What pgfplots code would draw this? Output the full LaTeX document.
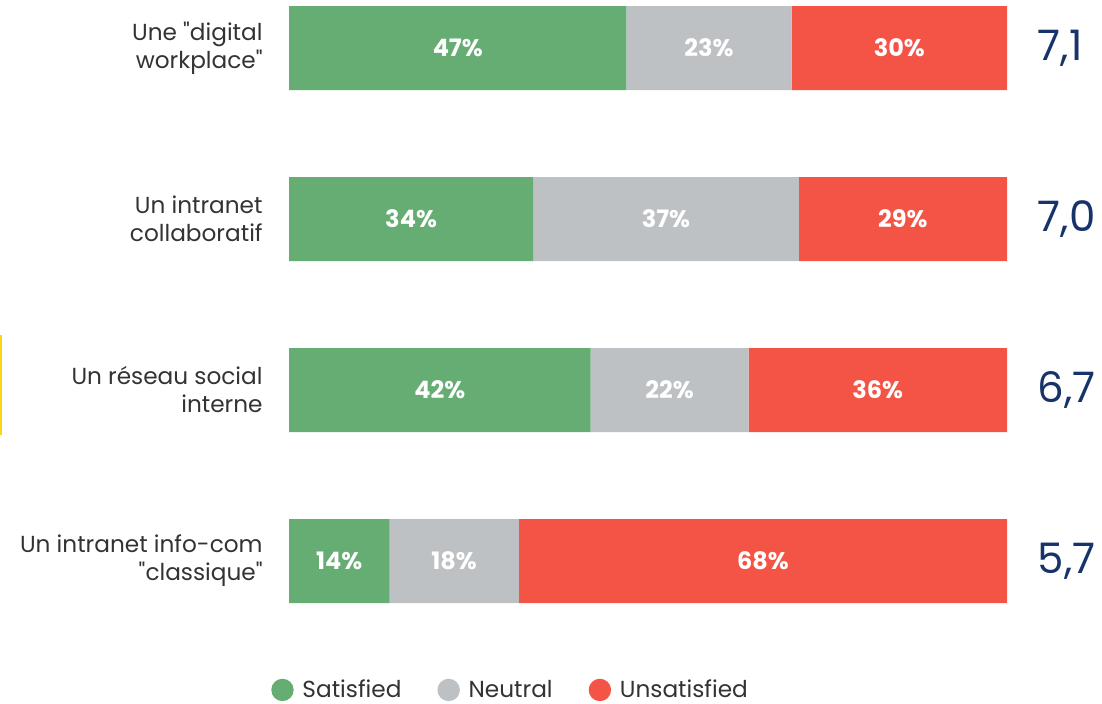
\documentclass[border=0pt]{standalone}
\usepackage{fontspec}
\setmainfont{Poppins}[Ligatures=TeXOff]
\usepackage{pgfplots}
\pgfplotsset{compat=1.18}
\definecolor{sat}{HTML}{66AD73}
\definecolor{neu}{HTML}{BEC1C4}
\definecolor{uns}{HTML}{F45445}
\definecolor{navy}{HTML}{17346A}
\definecolor{txt}{HTML}{333333}
\begin{document}
\begin{tikzpicture}
\path[use as bounding box] (0,0) rectangle (551pt,351.5pt);
\fill[color={rgb,255:red,250;green,215;blue,20}] (0,134pt) rectangle (1pt,184pt);
\pgfplotsset{my/.style={scale only axis, width=359pt, height=299.25pt,
  at={(144.5pt,49.625pt)}, anchor=south west,
  xmin=0, xmax=100, ymin=-0.25, ymax=3.25, y dir=reverse}}
\begin{axis}[my, xbar stacked, bar width=42pt,
  axis line style={draw=none}, major tick length=0pt,
  xtick=\empty, ytick={0,1,2,3},
  yticklabels={{Une "digital\\workplace"},{Un intranet\\collaboratif},{Un réseau social\\interne},{Un intranet info-com\\"classique"}},
  yticklabel style={align=right, font=\fontsize{11.6}{14}\selectfont, text=txt, inner sep=0pt, xshift=-13pt},
  legend columns=3,
  legend style={draw=none, inner sep=0pt, at={(0.31,-0.144)}, anchor=center, font=\fontsize{11.6}{13}\selectfont, text=txt,
    /tikz/every even column/.append style={column sep=16pt}},
  legend image code/.code={\fill[#1] (0pt,0pt) circle (5.6pt); \path (8pt,0pt);},
  ]
\addplot[fill=sat, draw=none] coordinates {(47,0) (34,1) (42,2) (14,3)};
\addplot[fill=neu, draw=none] coordinates {(23,0) (37,1) (22,2) (18,3)};
\addplot[fill=uns, draw=none] coordinates {(30,0) (29,1) (36,2) (68,3)};
\legend{Satisfied, Neutral, Unsatisfied}
\end{axis}
\begin{axis}[my, hide axis, clip=false]
\addplot[draw=none, nodes near coords, point meta=explicit symbolic,
  every node near coord/.append style={anchor=center, font=\bfseries\fontsize{12}{12}\selectfont, text=white}]
  coordinates {(23.5,0)[47\%] (58.5,0)[23\%] (85,0)[30\%]
               (17,1)[34\%] (52.5,1)[37\%] (85.5,1)[29\%]
               (21,2)[42\%] (53,2)[22\%] (82,2)[36\%]
               (7,3)[14\%] (23,3)[18\%] (66,3)[68\%]};
\addplot[draw=none, nodes near coords, point meta=explicit symbolic,
  every node near coord/.append style={anchor=west, font=\fontsize{21}{21}\selectfont, text=navy}]
  coordinates {(103.3,0)[{7,1}] (103.3,1)[{7,0}] (103.3,2)[{6,7}] (103.3,3)[{5,7}]};
\end{axis}
\end{tikzpicture}
\end{document}
